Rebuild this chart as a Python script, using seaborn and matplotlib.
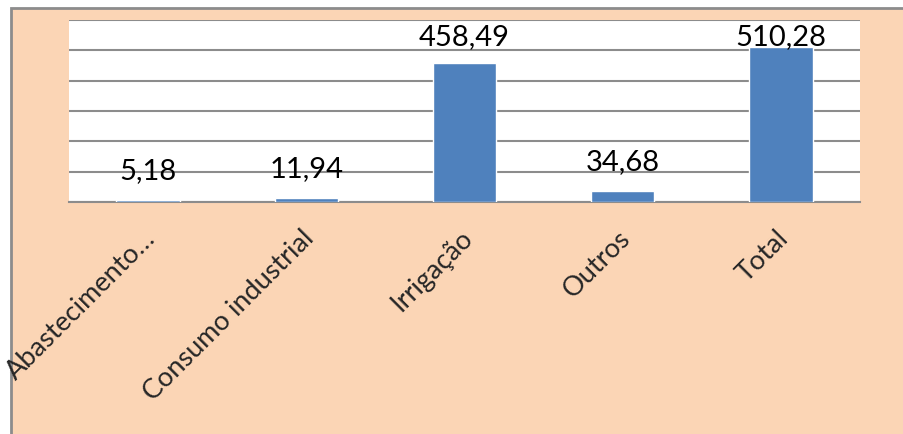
import matplotlib
matplotlib.use("Agg")
import matplotlib.pyplot as plt
import matplotlib.transforms as mtransforms
import seaborn as sns
import pandas as pd
from matplotlib.patches import Rectangle

categories = ["Abastecimento…", "Consumo industrial", "Irrigação", "Outros", "Total"]
values = [5.18, 11.94, 458.49, 34.68, 510.28]
value_labels = ["5,18", "11,94", "458,49", "34,68", "510,28"]

sns.set_style("white")
plt.rcParams['font.family'] = ['Lato', 'DejaVu Sans']

W, H = 904, 434
fig = plt.figure(figsize=(W/100, H/100), dpi=100, facecolor="white")
bg = Rectangle((11/W, -0.05), 1.1, 1.05 - 8/H, transform=fig.transFigure,
               facecolor="#FBD5B5", edgecolor="#8C8C8C", linewidth=2, zorder=-10)
fig.patches.append(bg)
ax_h_px = 202 - 20
ax = fig.add_axes([69/W, 1 - 202/H, (860-69)/W, ax_h_px/H])
ax.set_zorder(1)
ax.set_facecolor("white")

df = pd.DataFrame({"cat": categories, "val": values})
sns.barplot(data=df, x="cat", y="val", color="#4F81BD", saturation=1, width=0.4, ax=ax, zorder=3)

ymax = 600
ax.set_ylim(0, ymax)
ax.set_yticks(range(0, ymax + 1, 100))
ax.set_yticklabels([])
ax.tick_params(axis="y", length=0)
ax.yaxis.grid(True, color="#8C8C8C", linewidth=1.5, zorder=0)
ax.set_axisbelow(True)
for s in ["left", "right", "top"]:
    ax.spines[s].set_visible(False)
ax.spines["bottom"].set_color("#8C8C8C")
ax.spines["bottom"].set_linewidth(1.5)
ax.set_xlabel("")
ax.set_ylabel("")
ax.tick_params(axis="x", length=0, pad=17)
ax.set_xticks(range(len(categories)))
ax.set_xticklabels(categories, rotation=45, ha="right", rotation_mode="anchor", fontsize=19.5)
offset = mtransforms.ScaledTranslation(-5/100, 0, fig.dpi_scale_trans)
for lbl in ax.get_xticklabels():
    lbl.set_transform(lbl.get_transform() + offset)

px2data = ymax / ax_h_px
for i, (v, lab) in enumerate(zip(values, value_labels)):
    y = min(v + 21 * px2data, ymax - 25 * px2data)
    ax.text(i, y, lab, ha="center", va="baseline", fontsize=21, color="black")

fig.savefig("out.png", dpi=100, facecolor="white")
